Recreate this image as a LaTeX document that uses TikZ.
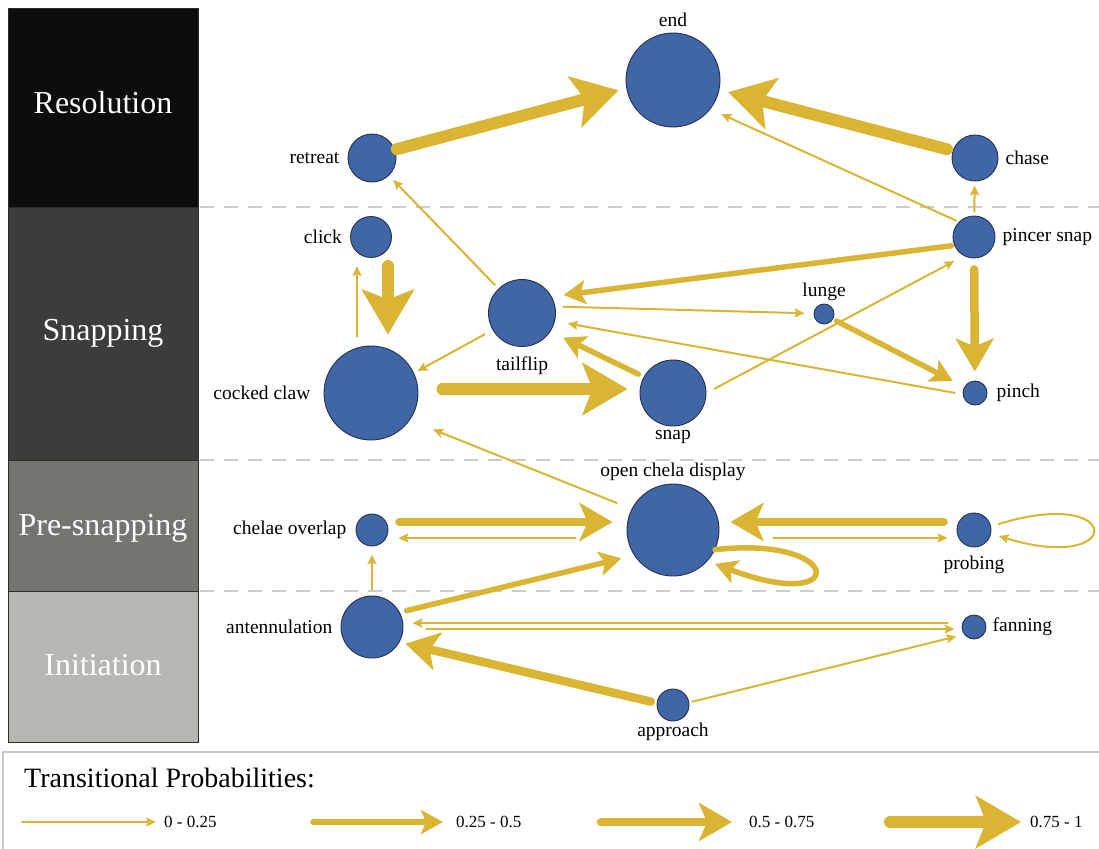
\documentclass[tikz,border=0pt]{standalone}
\usepackage{fontspec}
\setmainfont{Liberation Serif}
\usetikzlibrary{arrows.meta}
\definecolor{gold}{RGB}{218,181,52}
\definecolor{nodeblue}{RGB}{64,102,166}
\definecolor{nodeedge}{RGB}{35,50,82}
\definecolor{resblack}{RGB}{13,13,11}
\definecolor{snapgray}{RGB}{60,60,58}
\definecolor{pregray}{RGB}{116,116,113}
\definecolor{initgray}{RGB}{182,183,178}
\definecolor{boxedge}{RGB}{45,45,45}
\definecolor{sepgray}{RGB}{205,205,205}
\definecolor{legendgray}{RGB}{200,200,200}
\begin{document}
\begin{tikzpicture}[x=1pt,y=-1pt,
  state/.style={circle,fill=nodeblue,draw=nodeedge,line width=0.9pt,inner sep=0pt},
  lab/.style={font=\fontsize{19.5}{22}\selectfont,inner sep=0pt},
  phase/.style={draw=boxedge,line width=0.8pt},
  phasetext/.style={font=\fontsize{32}{36}\selectfont,text=white,inner sep=0pt},
  legtext/.style={font=\fontsize{17}{20}\selectfont,inner sep=0pt,anchor=west},
  tr/.style={draw=gold,line cap=round},
  p1/.style={tr,line width=2pt,-{Stealth[length=10pt,width=9pt,inset=2pt]}},
  p2/.style={tr,line width=5.5pt,-{Stealth[length=22pt,width=24pt,inset=5pt]}},
  p3/.style={tr,line width=8.5pt,-{Stealth[length=33pt,width=38pt,inset=8pt]}},
  p4/.style={tr,line width=12pt,-{Stealth[length=45pt,width=52pt,inset=10pt]}},
  sep/.style={draw=sepgray,line width=2pt,dash pattern=on 14pt off 10pt}
]
\fill[white] (0,0) rectangle (1099,848);
\useasboundingbox (0,0) rectangle (1099,848);

% phase bars
\filldraw[phase,fill=resblack] (8,8) rectangle (198,207);
\filldraw[phase,fill=snapgray] (8,207) rectangle (198,460);
\filldraw[phase,fill=pregray] (8,460) rectangle (198,591);
\filldraw[phase,fill=initgray] (8,591) rectangle (198,742);
\node[phasetext] (phres) at (103,103) {Resolution};
\node[phasetext] (phsnap) at (103,333) {Snapping};
\node[phasetext] (phpre) at (103,528) {Pre-snapping};
\node[phasetext] (phinit) at (103,665) {Initiation};

% separators
\draw[sep] (200,207) -- (1099,207);
\draw[sep] (200,460) -- (1099,460);
\draw[sep] (200,591) -- (1099,591);

% states
\node[state,minimum size=94pt,label={[lab,label distance=6pt]above:end}] (endn) at (673,80) {};
\node[state,minimum size=48pt,label={[lab,label distance=8pt]left:retreat}] (ret) at (372,158) {};
\node[state,minimum size=46pt,label={[lab,label distance=7pt]right:chase}] (cha) at (975,158) {};
\node[state,minimum size=41pt,label={[lab,label distance=8pt]left:click}] (cli) at (371,237) {};
\node[state,minimum size=42pt,label={[lab,label distance=7pt]right:pincer snap}] (ps) at (974,237) {};
\node[state,minimum size=67pt,label={[lab,label distance=10pt]below:tailflip}] (tf) at (522,313) {};
\node[state,minimum size=20pt,label={[lab,label distance=3pt]above:lunge}] (lun) at (824,314) {};
\node[state,minimum size=94pt,label={[lab,label distance=13pt]left:cocked claw}] (cc) at (371,393) {};
\node[state,minimum size=66pt,label={[lab,label distance=4pt]below:snap}] (sn) at (673,393) {};
\node[state,minimum size=24pt,label={[lab,label distance=9pt]right:pinch}] (pi) at (975,393) {};
\node[state,minimum size=92pt,label={[lab,label distance=3pt]above:open chela display}] (ocd) at (673,530) {};
\node[state,minimum size=32pt,label={[lab,label distance=9pt]left:chelae overlap}] (co) at (372,530) {};
\node[state,minimum size=34pt,label={[lab,label distance=8pt]below:probing}] (pr) at (974,530) {};
\node[state,minimum size=62pt,label={[lab,label distance=8pt]left:antennulation}] (ant) at (372,627) {};
\node[state,minimum size=24pt,label={[lab,label distance=6pt]right:fanning}] (fan) at (974,627) {};
\node[state,minimum size=32pt,label={[lab,label distance=1pt]below:approach}] (app) at (673,705) {};

% transitions
\draw[p4,shorten <=2pt,shorten >=8pt] (ret.20) -- (endn.190);
\draw[p4,shorten <=6pt,shorten >=9pt] (cha.162) -- (endn.-12);
\draw[p1,shorten <=3pt,shorten >=12pt] (ps.135) -- (endn.-38);
\draw[p1,shorten <=4pt,shorten >=4pt] (ps) -- (cha);
\draw[p1,shorten <=5pt,shorten >=6pt] (tf) -- (ret);
\draw[p4,shorten <=8pt,shorten >=11pt] ([xshift=17pt]cli.south) -- ([xshift=17pt]cc.north);
\draw[p1,shorten <=9pt,shorten >=8pt] ([xshift=-14pt]cc.north) -- ([xshift=-14pt]cli.south);
\draw[p1,shorten <=9pt,shorten >=4pt] (tf.210) -- (cc.25);
\draw[p4,shorten <=24pt,shorten >=12pt] ([yshift=4pt]cc.east) -- ([yshift=4pt]sn.west);
\draw[p2,shorten <=6pt,shorten >=14pt] (sn.151) -- (tf.-33);
\draw[p2,shorten <=3pt,shorten >=12pt] (ps.203) -- (tf.29);
\draw[p1,shorten <=8pt,shorten >=9pt] (tf.11) -- (lun.177);
\draw[p1,shorten <=8pt,shorten >=13pt] (pi.186) -- (tf.-14);
\draw[p2,shorten <=4pt,shorten >=13pt] (lun.-30) -- (pi.150);
\draw[p1,shorten <=9pt,shorten >=11pt] (sn.0) -- (ps.242);
\draw[p3,shorten <=11pt,shorten >=9pt] (ps) -- (pi);
\draw[p1,shorten <=16pt,shorten >=25pt] (ocd.153) -- (cc.-35);
\draw[p3,shorten <=11pt,shorten >=14pt] ([yshift=8pt]co.east) -- ([yshift=8pt]ocd.west);
\draw[p1,shorten <=51pt,shorten >=10pt] ([yshift=-8pt]ocd.west) -- ([yshift=-8pt]co.east);
\draw[p3,shorten <=13pt,shorten >=11pt] ([yshift=8pt]pr.west) -- ([yshift=8pt]ocd.east);
\draw[p1,shorten <=54pt,shorten >=9pt] ([yshift=-8pt]ocd.east) -- ([yshift=-8pt]pr.west);
\draw[p2,shorten >=8pt] (ocd.-25) .. controls (845,535) and (850,615) .. (ocd.-42);
\draw[p1,shorten <=8pt,shorten >=8pt] (pr.12) .. controls (1125,485) and (1125,575) .. (pr.-12);
\draw[p1,shorten <=6pt,shorten >=8pt] (ant) -- (co);
\draw[p2,shorten <=7pt,shorten >=13pt] (ant.28) -- (ocd.213);
\draw[p1,shorten <=14pt,shorten >=9pt] ([yshift=4pt]fan.west) -- ([yshift=4pt]ant.east);
\draw[p1,shorten <=23pt,shorten >=7pt] ([yshift=-2pt]ant.east) -- ([yshift=-2pt]fan.west);
\draw[p3,shorten <=6pt,shorten >=6pt] (app.173) -- (ant.-29);
\draw[p1,shorten <=3pt,shorten >=8pt] (app.9) -- (fan.217);

% legend
\draw[draw=legendgray,line width=2pt] (3,752) rectangle (1115,870);
\node[anchor=west,inner sep=0pt,font=\fontsize{28}{31}\selectfont] (ltitle) at (24,778) {Transitional Probabilities:};
\coordinate (l1a) at (22,822); \coordinate (l1b) at (156,822);
\coordinate (l2a) at (313,822); \coordinate (l2b) at (443,822);
\coordinate (l3a) at (601,822); \coordinate (l3b) at (732,822);
\coordinate (l4a) at (890,822); \coordinate (l4b) at (1021,822);
\draw[p1] (l1a) -- (l1b);
\draw[p2] (l2a) -- (l2b);
\draw[p3] (l3a) -- (l3b);
\draw[p4] (l4a) -- (l4b);
\node[legtext] (l1t) at (164,822) {0 - 0.25};
\node[legtext] (l2t) at (456,822) {0.25 - 0.5};
\node[legtext] (l3t) at (749,822) {0.5 - 0.75};
\node[legtext] (l4t) at (1030,822) {0.75 - 1};
\end{tikzpicture}
\end{document}
